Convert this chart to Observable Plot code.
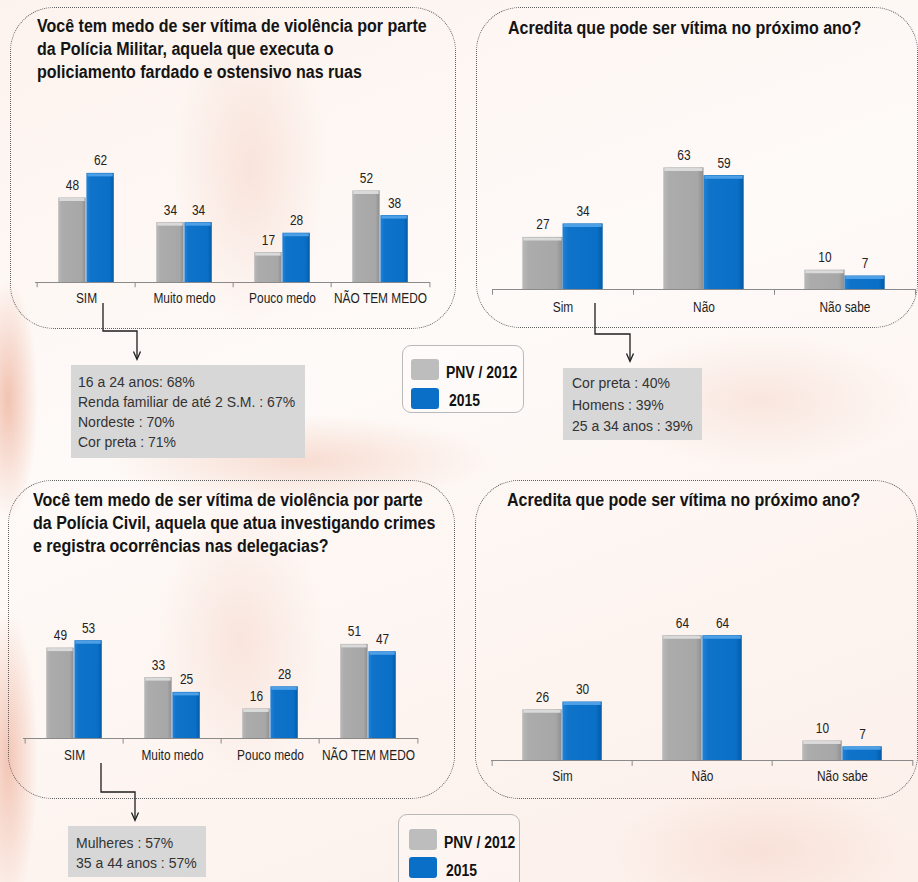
<!DOCTYPE html>
<html>
<head>
<meta charset="utf-8">
<script src="https://cdn.jsdelivr.net/npm/d3@7"></script>
<script src="https://cdn.jsdelivr.net/npm/@observablehq/plot@0.6"></script>
<style>
  body { margin: 0; background: #fff; }
  #root {
    position: relative; width: 918px; height: 882px; overflow: hidden;
    background:
      radial-gradient(ellipse 110px 230px at 250px 170px, rgba(236,178,156,0.28), rgba(236,178,156,0) 70%),
      radial-gradient(ellipse 120px 200px at 240px 640px, rgba(236,178,156,0.26), rgba(236,178,156,0) 70%),
      radial-gradient(ellipse 40px 160px at 8px 400px, rgba(232,150,120,0.55), rgba(232,150,120,0) 75%),
      radial-gradient(ellipse 40px 200px at 8px 760px, rgba(232,150,120,0.50), rgba(232,150,120,0) 75%),
      radial-gradient(ellipse 260px 60px at 300px 460px, rgba(236,168,140,0.35), rgba(236,168,140,0) 75%),
      radial-gradient(ellipse 200px 90px at 760px 400px, rgba(238,185,165,0.28), rgba(238,185,165,0) 75%),
      radial-gradient(ellipse 200px 90px at 760px 850px, rgba(238,185,165,0.28), rgba(238,185,165,0) 75%),
      linear-gradient(160deg, #fdf3ee 0%, #fefaf8 40%, #fcefe9 100%);
  }
  .panel { position: absolute; border: 1px dotted #5f5f5f; border-radius: 44px; box-sizing: border-box; }
  .title {
    position: absolute; font-family: "Liberation Sans", Arial, sans-serif;
    font-weight: bold; font-size: 18px; line-height: 23px; color: #141414; white-space: nowrap;
    transform: scaleX(0.89); transform-origin: 0 0;
  }
  .chart { position: absolute; }
  .note {
    position: absolute; background: #d7d7d7; box-sizing: border-box;
    font-family: "Liberation Sans", Arial, sans-serif; font-size: 14px; color: #333; white-space: nowrap;
  }
  .legend {
    position: absolute; border: 1px solid #b9b9b9; border-radius: 9px; box-sizing: border-box;
    background: rgba(255,255,255,0.25);
    font-family: "Liberation Sans", Arial, sans-serif; font-weight: bold; font-size: 16px; color: #111;
  }
  .legend .sw { position: absolute; width: 28px; height: 21px; border-radius: 3px; }
  .legend .lb { position: absolute; line-height: 20px; white-space: nowrap; transform: scaleX(0.87); transform-origin: 0 0; }
  #overlay { position: absolute; left: 0; top: 0; }
</style>
</head>
<body>
<div id="root"></div>
<script>
// ---------------- data ----------------
const fearCategories = ["SIM", "Muito medo", "Pouco medo", "NÃO TEM MEDO"];
const nextYearCategories = ["Sim", "Não", "Não sabe"];
const seriesNames = ["PNV / 2012", "2015"];

const militaryFear2012 = [48, 34, 17, 52];
const militaryFear2015 = [62, 34, 28, 38];
const militaryNext2012 = [27, 63, 10];
const militaryNext2015 = [34, 59, 7];

const civilFear2012 = [49, 33, 16, 51];
const civilFear2015 = [53, 25, 28, 47];
const civilNext2012 = [26, 64, 10];
const civilNext2015 = [30, 64, 7];

const militaryTitle = ["Você tem medo de ser vítima de violência por parte", "da Polícia Militar, aquela que executa o", "policiamento fardado e ostensivo nas ruas"];
const civilTitle = ["Você tem medo de ser vítima de violência por parte", "da Polícia Civil, aquela que atua investigando crimes", "e registra ocorrências nas delegacias?"];
const nextYearTitle = "Acredita que pode ser vítima no próximo ano?";

const militaryFearNote = ["16 a 24 anos: 68%", "Renda familiar de até 2 S.M. : 67%", "Nordeste : 70%", "Cor preta : 71%"];
const militaryNextNote = ["Cor preta : 40%", "Homens : 39%", "25 a 34 anos : 39%"];
const civilFearNote = ["Mulheres : 57%", "35 a 44 anos : 57%"];

// ---------------- style ----------------
const GRAY = "#a7a7a7", BLUE = "#0a6fc6";
const FONT = '"Liberation Sans", Arial, sans-serif';
const root = document.getElementById("root");

function el(tag, cls, css, html) {
  const e = document.createElement(tag);
  if (cls) e.className = cls;
  Object.assign(e.style, css || {});
  if (html != null) e.innerHTML = html;
  root.appendChild(e);
  return e;
}

function groupedBars({cats, a, b, left, top, width, height, ml, mr, mt, mb, pad}) {
  const rows = cats.map((c, i) => ({cat: c, a: a[i], b: b[i]}));
  const bw = (width - ml - mr) / cats.length;
  const g0 = 0.215 * bw, mid = 0.5 * bw, g1 = 0.785 * bw;
  const off = 0.1425 * bw;
  const svg = Plot.plot({
    width, height, marginLeft: ml, marginRight: mr, marginTop: mt, marginBottom: mb,
    style: {background: "transparent", fontFamily: FONT, fontSize: "14px", color: "#1e1e1e", overflow: "visible"},
    x: {domain: cats, padding: 0, tickSize: 0, tickPadding: pad, label: null},
    y: {domain: [0, 100], axis: null},
    marks: [
      Plot.barY(rows, {x: "cat", y: "a", fill: "url(#gradGray)", insetLeft: g0, insetRight: bw - mid}),
      Plot.barY(rows, {x: "cat", y: "b", fill: "url(#gradBlue)", insetLeft: mid, insetRight: bw - g1}),
      Plot.tickY(rows, {x: "cat", y: "a", stroke: "#dadada", strokeWidth: 3, dy: 1.5, insetLeft: g0 + 1, insetRight: bw - mid + 1}),
      Plot.tickY(rows, {x: "cat", y: "b", stroke: "#4ea0e6", strokeWidth: 3, dy: 1.5, insetLeft: mid + 1, insetRight: bw - g1 + 1}),
      Plot.ruleY([0], {stroke: "#8a8a8a", strokeWidth: 1}),
      Plot.ruleX(cats, {x: d => d, y1: 0, y2: -3, dx: -bw / 2, stroke: "#8a8a8a"}),
      Plot.ruleX([cats[cats.length - 1]], {x: d => d, y1: 0, y2: -3, dx: bw / 2, stroke: "#8a8a8a"}),
      Plot.text(rows, {x: "cat", y: "a", text: d => String(d.a), dx: -off, dy: -12.5, fill: "#222"}),
      Plot.text(rows, {x: "cat", y: "b", text: d => String(d.b), dx: off, dy: -12.5, fill: "#222"})
    ]
  });
  const ns = "http://www.w3.org/2000/svg";
  const defs = document.createElementNS(ns, "defs");
  defs.innerHTML =
    '<linearGradient id="gradGray" x1="0" x2="1" y1="0" y2="0">' +
      '<stop offset="0" stop-color="#b9b9b9"/><stop offset="0.15" stop-color="#acacac"/>' +
      '<stop offset="0.85" stop-color="' + GRAY + '"/><stop offset="1" stop-color="#8e8e8e"/></linearGradient>' +
    '<linearGradient id="gradBlue" x1="0" x2="1" y1="0" y2="0">' +
      '<stop offset="0" stop-color="#2282d6"/><stop offset="0.15" stop-color="#0f73ca"/>' +
      '<stop offset="0.85" stop-color="' + BLUE + '"/><stop offset="1" stop-color="#055aa6"/></linearGradient>';
  svg.insertBefore(defs, svg.firstChild);
  const wrap = el("div", "chart", {left: left + "px", top: top + "px", width: width + "px", height: height + "px"});
  wrap.appendChild(svg);
  // condense the chart text horizontally (the original uses a narrow face)
  svg.querySelectorAll("text").forEach(t => {
    const L = t.getComputedTextLength();
    if (L > 0) {
      t.setAttribute("textLength", (L * 0.85).toFixed(2));
      t.setAttribute("lengthAdjust", "spacingAndGlyphs");
    }
  });
}

// panels
el("div", "panel", {left: "10px", top: "7px", width: "446px", height: "322px"});
el("div", "panel", {left: "476px", top: "7px", width: "442px", height: "321px"});
el("div", "panel", {left: "8px", top: "480px", width: "447px", height: "319px"});
el("div", "panel", {left: "475px", top: "480px", width: "443px", height: "319px"});

// charts
groupedBars({cats: fearCategories, a: militaryFear2012, b: militaryFear2015,
  left: 0, top: 100, width: 460, height: 220, ml: 35, mr: 30, mt: 6, mb: 38, pad: 11});
groupedBars({cats: nextYearCategories, a: militaryNext2012, b: militaryNext2015,
  left: 460, top: 90, width: 458, height: 240, ml: 32, mr: 3, mt: 6, mb: 41, pad: 13});
groupedBars({cats: fearCategories, a: civilFear2012, b: civilFear2015,
  left: 0, top: 550, width: 460, height: 230, ml: 23, mr: 42, mt: 3.5, mb: 42, pad: 12});
groupedBars({cats: nextYearCategories, a: civilNext2012, b: civilNext2015,
  left: 460, top: 560, width: 458, height: 240, ml: 31, mr: 5, mt: 5, mb: 40, pad: 11});

// titles
el("div", "title", {left: "37px", top: "15px"}, militaryTitle.join("<br>"));
el("div", "title", {left: "508px", top: "17px"}, nextYearTitle);
el("div", "title", {left: "33px", top: "489px"}, civilTitle.join("<br>"));
el("div", "title", {left: "507px", top: "489px"}, nextYearTitle);

// notes
el("div", "note", {left: "71px", top: "365px", width: "234px", height: "93px", padding: "7px 0 0 7px", lineHeight: "20px"}, militaryFearNote.join("<br>"));
el("div", "note", {left: "563px", top: "368px", width: "139px", height: "72px", padding: "5px 0 0 9px", lineHeight: "21.5px"}, militaryNextNote.join("<br>"));
el("div", "note", {left: "68px", top: "826px", width: "138px", height: "51px", padding: "7px 0 0 8px", lineHeight: "20px"}, civilFearNote.join("<br>"));

// legends
function legend(left, top, height, sw1, sw2, t1, t2, lx1, lx2, sl) {
  const L = el("div", "legend", {left: left + "px", top: top + "px", width: "122px", height: height + "px"});
  const mk = (css, cls, html) => { const e = document.createElement("div"); e.className = cls; Object.assign(e.style, css); if (html) e.textContent = html; L.appendChild(e); };
  mk({left: sl + "px", top: sw1 + "px", background: "#bdbdbd"}, "sw");
  mk({left: sl + "px", top: sw2 + "px", background: BLUE}, "sw");
  mk({left: lx1 + "px", top: t1 + "px"}, "lb", seriesNames[0]);
  mk({left: lx2 + "px", top: t2 + "px"}, "lb", seriesNames[1]);
}
legend(402, 345, 68, 13, 42, 17, 45, 43, 46, 8);
legend(398, 814, 80, 14, 42, 18, 46, 45, 47, 10);

// connectors
const ov = document.createElementNS("http://www.w3.org/2000/svg", "svg");
ov.setAttribute("id", "overlay"); ov.setAttribute("width", 918); ov.setAttribute("height", 882);
ov.innerHTML =
  '<g fill="none" stroke="#1e1e1e" stroke-width="1.3">' +
  '<path d="M103,303V331H137V359"/><path d="M133.5,351.5L137,359.5L140.5,351.5"/>' +
  '<path d="M595,303V334H630V361"/><path d="M626.5,353.5L630,361.5L633.5,353.5"/>' +
  '<path d="M101,763V792H135V820"/><path d="M131.5,812.5L135,820.5L138.5,812.5"/>' +
  '</g>';
root.appendChild(ov);
</script>
</body>
</html>
